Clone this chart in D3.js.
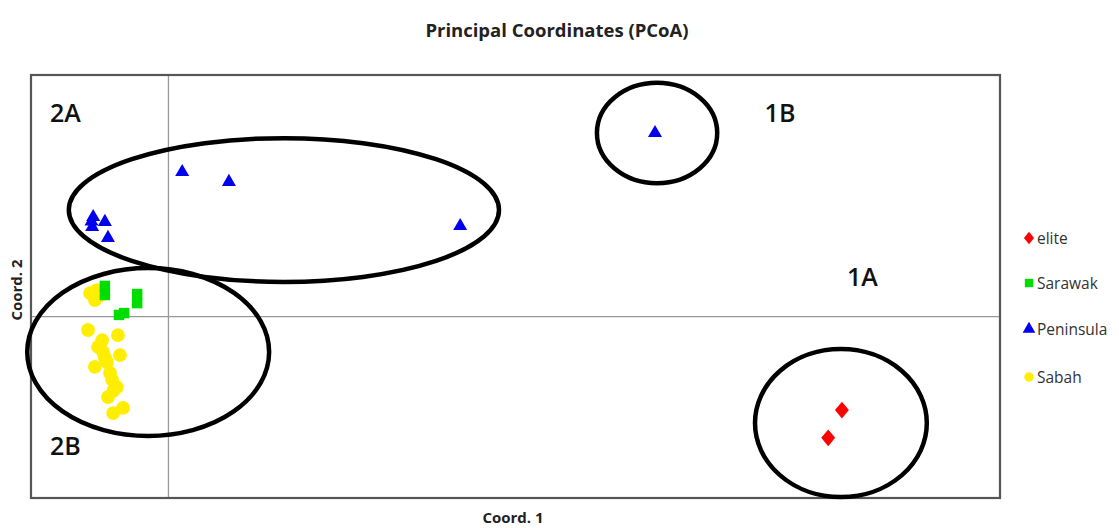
<!DOCTYPE html>
<html><head><meta charset="utf-8">
<script src="https://cdn.jsdelivr.net/npm/d3@7"></script>
<style>body{margin:0;background:#fff}svg{display:block}</style>
</head><body>
<svg id="c" width="1119" height="528"></svg>
<script>
const groups = ["elite","Sarawak","Peninsula","Sabah"];
const eliteX = [1.960, 1.920];
const eliteY = [-0.309, -0.401];
const sarawakX = [-0.185, -0.185, -0.091, -0.091, -0.144, -0.129];
const sarawakY = [0.102, 0.072, 0.075, 0.045, 0.006, 0.012];
const peninsulaX = [0.040, 0.176, 0.849, 1.416, -0.219, -0.185, -0.222, -0.176, -0.224];
const peninsulaY = [0.479, 0.446, 0.300, 0.608, 0.330, 0.314, 0.297, 0.261, 0.315];
const sabahX = [-0.228,-0.208,-0.214,-0.200,-0.234,-0.193,-0.147,-0.190,-0.141,-0.214,-0.179,-0.170,-0.150,-0.176,-0.161,-0.132,-0.205,-0.164,-0.185,-0.160];
const sabahY = [0.078,0.088,0.055,0.070,-0.044,-0.078,-0.061,-0.117,-0.127,-0.166,-0.150,-0.186,-0.233,-0.266,-0.319,-0.302,-0.100,-0.209,-0.135,-0.245];
const clusterNames = ["2A","2B","1B","1A"];
const clusterCx = [0.336, -0.059, 1.422, 1.957];
const clusterCy = [0.353, -0.117, 0.608, -0.352];
const clusterRx = [0.626, 0.352, 0.175, 0.250];
const clusterRy = [0.238, 0.278, 0.166, 0.245];
const labelX = [-0.345, -0.345, 1.735, 1.975];
const labelY = [0.643, -0.457, 0.643, 0.103];

const svg = d3.select("#c");
const L=31,R=1000,T=75,B=498;
const x = d3.scaleLinear().domain([-0.4,2.42]).range([L,R]);
const y = d3.scaleLinear().domain([-0.6,0.8]).range([B,T]);
const font = "'Open Sans', 'Liberation Sans', sans-serif";

svg.append("line").attr("x1",x(0)).attr("x2",x(0)).attr("y1",T).attr("y2",B).attr("stroke","#999").attr("stroke-width",1.3);
svg.append("line").attr("x1",L).attr("x2",R).attr("y1",y(0)).attr("y2",y(0)).attr("stroke","#999").attr("stroke-width",1.3);
svg.append("rect").attr("x",L).attr("y",T).attr("width",R-L).attr("height",B-T).attr("fill","none").attr("stroke","#555").attr("stroke-width",2.2);

const colors = {elite:"#ff0000",Sarawak:"#00dd00",Peninsula:"#0000ee",Sabah:"#ffee00"};
const shapes = {elite:d3.symbolDiamond,Sarawak:d3.symbolSquare,Peninsula:d3.symbolTriangle,Sabah:d3.symbolCircle};
const sizes = {elite:80,Sarawak:110,Peninsula:85,Sabah:150};
const sx = {elite:1.45,Sarawak:1,Peninsula:1,Sabah:1};
const series = [
  ["Sabah", sabahX, sabahY],
  ["Sarawak", sarawakX, sarawakY],
  ["Peninsula", peninsulaX, peninsulaY],
  ["elite", eliteX, eliteY]
];
series.forEach(([g,xs,ys])=>{
  const pts = xs.map((v,i)=>({x:v,y:ys[i]}));
  svg.append("g").selectAll("path").data(pts).join("path")
    .attr("d", d3.symbol().type(shapes[g]).size(sizes[g]))
    .attr("transform", d=>`translate(${x(d.x)},${y(d.y)}) scale(${sx[g]},1)`)
    .attr("fill", colors[g]);
});

clusterNames.forEach((n,i)=>{
  svg.append("ellipse").attr("cx",x(clusterCx[i])).attr("cy",y(clusterCy[i]))
    .attr("rx",x(clusterRx[i])-x(0)).attr("ry",y(0)-y(clusterRy[i]))
    .attr("fill","none").attr("stroke","#000").attr("stroke-width",4.5);
  svg.append("text").attr("x",x(labelX[i])).attr("y",y(labelY[i]))
    .attr("font-family",font).attr("font-weight",600).attr("font-size",25)
    .attr("transform-origin",`${x(labelX[i])} ${y(labelY[i])}`)
    .attr("fill","#111").text(n);
});

svg.append("text").attr("x",557).attr("y",37).attr("text-anchor","middle")
  .attr("font-family",font).attr("font-weight","bold").attr("font-size",18.5).attr("fill","#222")
  .text("Principal Coordinates (PCoA)");
svg.append("text").attr("x",513).attr("y",523).attr("text-anchor","middle")
  .attr("font-family",font).attr("font-weight","bold").attr("font-size",15).attr("fill","#222")
  .text("Coord. 1");
svg.append("text").attr("transform","translate(22,290) rotate(-90)").attr("text-anchor","middle")
  .attr("font-family",font).attr("font-weight","bold").attr("font-size",15).attr("fill","#222")
  .text("Coord. 2");

const legY = [238, 283, 329, 377];
groups.forEach((g,i)=>{
  svg.append("path").attr("d", d3.symbol().type(shapes[g]).size(g==="elite"?45:70))
    .attr("transform",`translate(1029,${legY[i]}) scale(${g==="elite"?1.4:1},1)`).attr("fill",colors[g]);
  svg.append("text").attr("x",1037).attr("y",legY[i]+6)
    .attr("font-family",font).attr("font-size",15.5).attr("fill","#333").text(g);
});
</script>
</body></html>
